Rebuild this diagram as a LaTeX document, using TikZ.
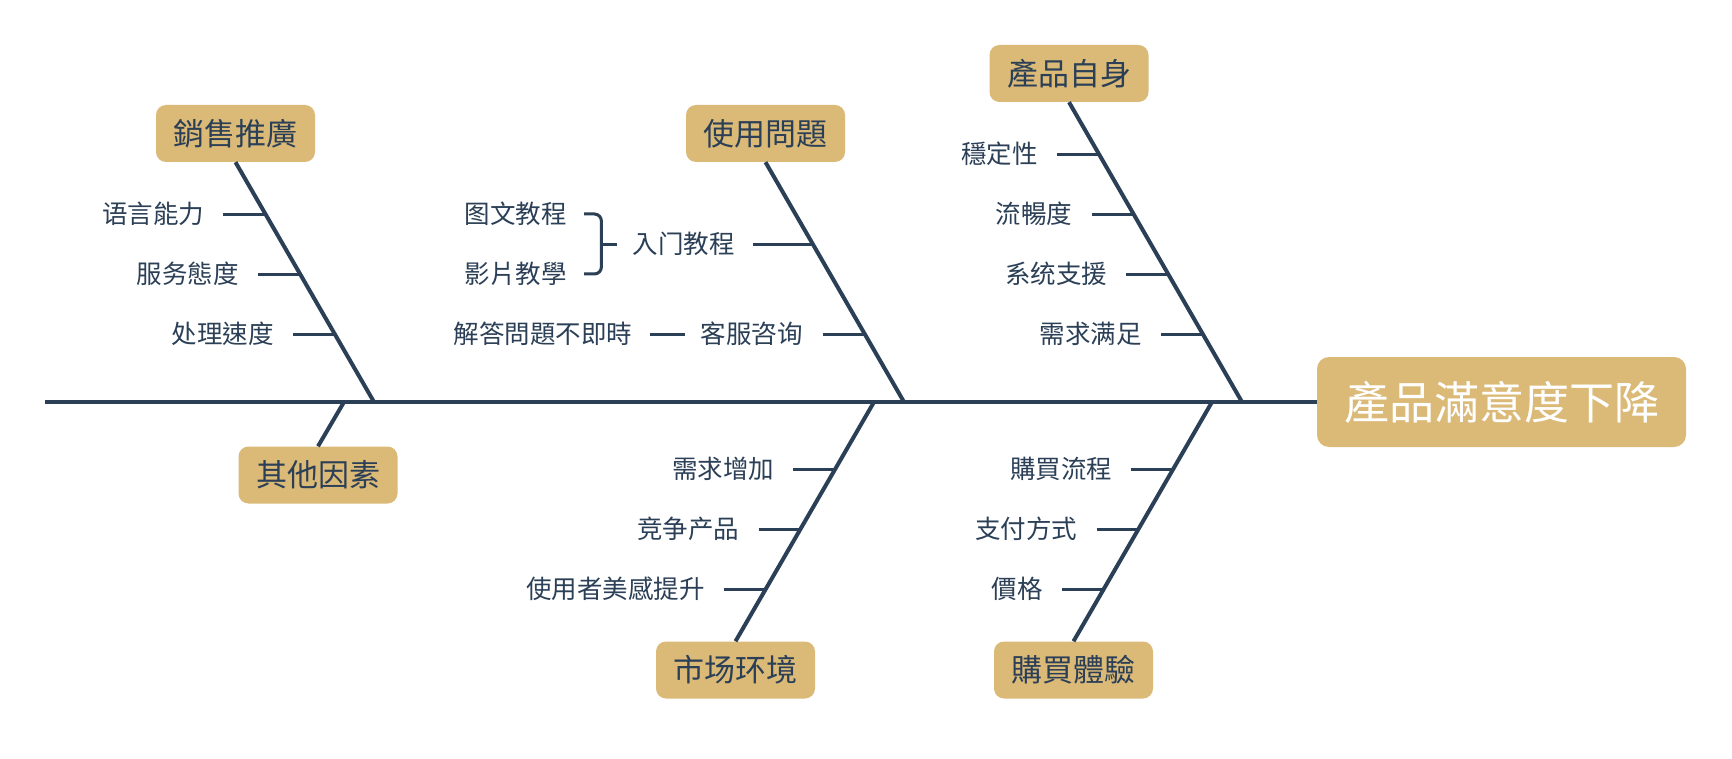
\documentclass[tikz,border=0pt]{standalone}
\usepackage{fontspec}
\newfontfamily\cjk{Noto Sans CJK TC}
\definecolor{ink}{HTML}{2B3F56}
\definecolor{boxc}{HTML}{DBBA78}
\newcommand\mytwig[5]{%
  \coordinate (#4j) at (intersection of #1--#2 and 0,#3--10,#3);
  \node[sub] (#4) at ([xshift=-61pt]#4j) {#5};
  \draw[twig] ([xshift=19pt]#4.east) -- (#4j);}
\begin{document}
\begin{tikzpicture}[x=1pt,y=-1pt,
  cat/.style={fill=boxc, rounded corners=10pt, minimum width=159pt, minimum height=57pt, inner sep=0pt, font=\cjk\fontsize{31}{36}\selectfont, text=ink},
  root/.style={fill=boxc, rounded corners=12pt, minimum width=369pt, minimum height=90pt, inner sep=0pt, font=\cjk\fontsize{45}{52}\selectfont, text=white},
  sub/.style={inner sep=0pt, font=\cjk\fontsize{25.5}{30}\selectfont, text=ink, anchor=east, text depth=2pt},
  bone/.style={draw=ink, line width=4pt},
  twig/.style={draw=ink, line width=3pt},
]
\useasboundingbox (0,0) rectangle (1732,759);
\fill[white] (0,0) rectangle (1732,759);

% root and spine
\node[root] (root) at (1501.5,402) {產品滿意度下降};
\coordinate (s0) at (45,402);
\draw[bone] (s0) -- (root.west);

% category boxes
\node[cat] (b1) at (235.5,133.5) {銷售推廣};
\node[cat] (b2) at (765.5,133.5) {使用問題};
\node[cat] (b3) at (1069,73.5) {產品自身};
\node[cat] (b4) at (318,475) {其他因素};
\node[cat] (b5) at (735.5,670) {市场环境};
\node[cat] (b6) at (1073.5,670) {購買體驗};

% spine junctions
\coordinate (s1) at (374,402);
\coordinate (s2) at (904,402);
\coordinate (s3) at (1242,402);
\coordinate (s4) at (344,402);
\coordinate (s5) at (874,402);
\coordinate (s6) at (1212,402);

\draw[bone] (b1.south) -- (s1);
\draw[bone] (b2.south) -- (s2);
\draw[bone] (b3.south) -- (s3);
\draw[bone] (b4.north) -- (s4);
\draw[bone] (b5.north) -- (s5);
\draw[bone] (b6.north) -- (s6);

% branch 1
\mytwig{b1.south}{s1}{214}{t11}{语言能力}
\mytwig{b1.south}{s1}{274}{t12}{服务態度}
\mytwig{b1.south}{s1}{334}{t13}{处理速度}

% branch 2
\coordinate (t21j) at (intersection of b2.south--s2 and 0,244--10,244);
\node[sub] (t21) at ([xshift=-78pt]t21j) {入门教程};
\draw[twig] ([xshift=18pt]t21.east) -- (t21j);
\node[sub] (g1) at (567,214) {图文教程};
\node[sub] (g2) at (567,274) {影片教學};
\coordinate (brc) at ([xshift=-31pt]t21.west);
\draw[twig, rounded corners=7pt] ([xshift=17pt]g1.east) -| (brc) |- ([xshift=17pt]g2.east);
\draw[twig] (brc) -- ([xshift=-15pt]t21.west);
\coordinate (t22j) at (intersection of b2.south--s2 and 0,334--10,334);
\node[sub] (t22) at ([xshift=-62pt]t22j) {客服咨询};
\draw[twig] ([xshift=20pt]t22.east) -- (t22j);
\node[sub] (t23) at ([xshift=-68pt]t22.west) {解答問題不即時};
\draw[twig] ([xshift=18pt]t23.east) -- ([xshift=-15pt]t22.west);

% branch 3
\mytwig{b3.south}{s3}{154}{t31}{穩定性}
\mytwig{b3.south}{s3}{214}{t32}{流暢度}
\mytwig{b3.south}{s3}{274}{t33}{系统支援}
\mytwig{b3.south}{s3}{334}{t34}{需求满足}

% branch 5
\mytwig{b5.north}{s5}{469}{t51}{需求增加}
\mytwig{b5.north}{s5}{529}{t52}{竞争产品}
\mytwig{b5.north}{s5}{589}{t53}{使用者美感提升}

% branch 6
\mytwig{b6.north}{s6}{469}{t61}{購買流程}
\mytwig{b6.north}{s6}{529}{t62}{支付方式}
\mytwig{b6.north}{s6}{589}{t63}{價格}
\end{tikzpicture}
\end{document}
